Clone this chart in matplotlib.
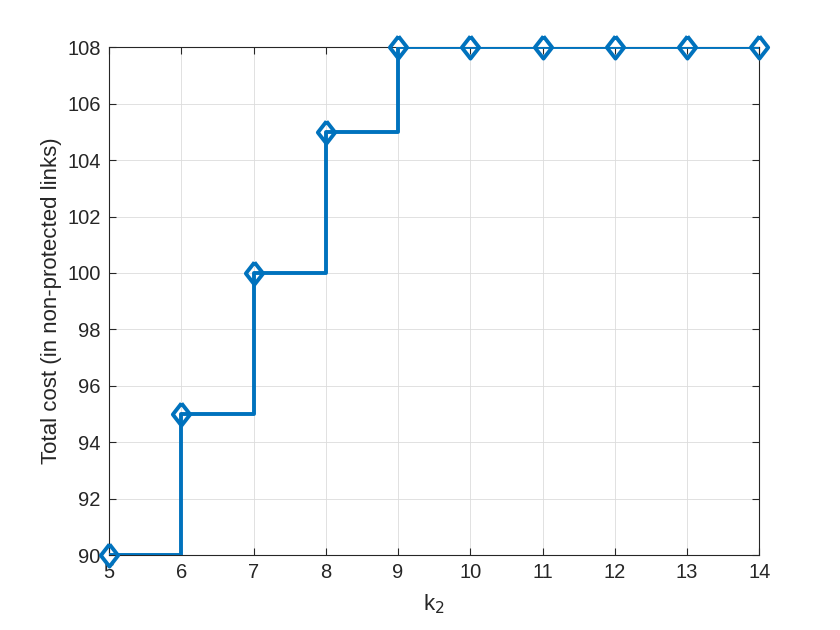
import matplotlib
matplotlib.use("Agg")
import matplotlib.pyplot as plt

k2 = [5, 6, 7, 8, 9, 10, 11, 12, 13, 14]
cost = [90, 95, 100, 105, 108, 108, 108, 108, 108, 108]
xticks = list(range(5, 15))
yticks = list(range(90, 109, 2))

plt.rcParams['font.family'] = ['Liberation Sans', 'DejaVu Sans']

fig = plt.figure(figsize=(8.4, 6.3), dpi=100)
ax = fig.add_axes([0.13, 0.119, 0.7738, 0.806])

blue = '#0072BD'
# matlab-like diamond (a bit stouter than matplotlib's 'd')
diamond = [(0, 1), (0.78, 0), (0, -1), (-0.78, 0), (0, 1)]
ax.plot(k2, cost, drawstyle='steps-post', color=blue, lw=2.8, zorder=3)
ax.plot(k2, cost, ls='none', marker=diamond, ms=16, mfc='none', mec=blue, mew=2.8,
        zorder=4, clip_on=False)

ax.set_xlim(5, 14)
ax.set_ylim(90, 108)
ax.set_xticks(xticks)
ax.set_yticks(yticks)
ax.grid(True, color='#dcdcdc', lw=0.6)
ax.set_axisbelow(True)
ax.tick_params(direction='in', length=5, width=0.8, labelsize=14.5, pad=6,
               colors='#262626', top=True, right=True, labeltop=False, labelright=False)
for s in ax.spines.values():
    s.set_color('#262626')
    s.set_linewidth(0.8)

ax.set_xlabel('k$_2$', fontsize=16, color='#262626', labelpad=7)
ax.set_ylabel('Total cost (in non-protected links)', fontsize=16, color='#262626')

fig.savefig('out.png', dpi=100)
